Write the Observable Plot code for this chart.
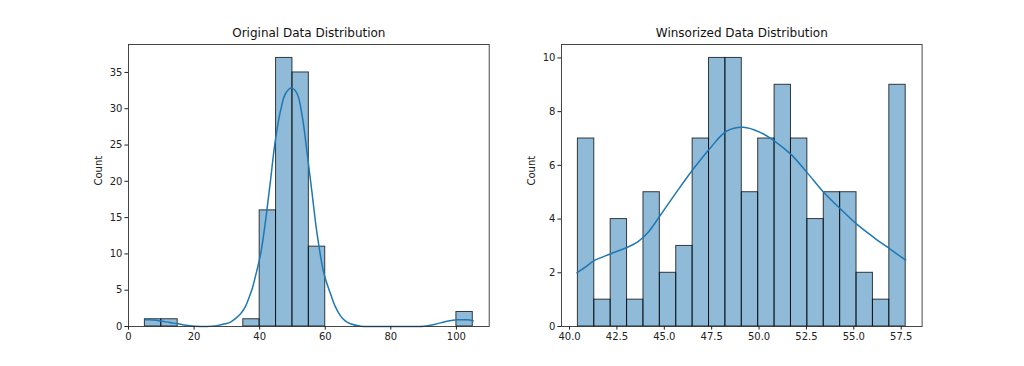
<!DOCTYPE html>
<html><head><meta charset="utf-8">
<script src="https://cdn.jsdelivr.net/npm/d3@7"></script>
<script src="https://cdn.jsdelivr.net/npm/@observablehq/plot@0.6"></script>
<style>
body{margin:0;background:#fff}
#chart{display:flex;width:1024px;height:366px}
#chart svg{display:block}
</style>
</head><body><div id="chart"></div>
<script>
// ---- Original data histogram ----
const origTitle = "Original Data Distribution";
const origBinEdges = [5,10,15,20,25,30,35,40,45,50,55,60,65,70,75,80,85,90,95,100,105];
const origCounts = [1,1,0,0,0,0,1,16,37,35,11,0,0,0,0,0,0,0,0,2];
const origKdeX = [5.1,7.5,10.2,12.5,15.2,17.5,20.3,24,27,29.5,31.1,32.5,34.2,35.6,36.7,37.8,38.7,40.3,41.8,43.3,44.8,46.4,47.9,49.7,51.4,53.0,54.5,56.0,57.5,59.6,61.6,63,64.6,66,67.7,70.8,75,80,85,90.1,92.5,95.2,97.5,100.2,103.3,105.1];
const origKdeY = [0.92,0.9,0.73,0.55,0.37,0.18,0.05,0.0,0.12,0.37,0.6,1.06,1.75,2.7,3.9,5.3,6.9,10.0,14.6,20.1,25.7,29.8,32.1,32.85,32.1,28.9,23.8,18.3,12.8,7.3,4.5,2.8,1.5,0.8,0.37,0.05,0.01,0.0,0.0,0.05,0.2,0.5,0.75,0.92,0.92,0.78];
const origXTicks = [0,20,40,60,80,100];
const origYTicks = [0,5,10,15,20,25,30,35];

// ---- Winsorized data histogram ----
const winsTitle = "Winsorized Data Distribution";
const winsBinEdges = [40.44,41.305,42.17,43.035,43.90,44.765,45.63,46.495,47.36,48.225,49.09,49.955,50.82,51.685,52.55,53.415,54.28,55.145,56.01,56.875,57.74];
const winsCounts = [7,1,4,1,5,2,3,7,10,10,5,7,9,7,4,5,5,2,1,9];
const winsKdeX = [40.39,40.85,41.3,42.15,43.05,43.6,44.14,44.8,45.7,46.57,47.43,48.3,49.17,50.06,50.94,51.7,52.55,53.41,54.29,55.17,56.05,56.92,57.74];
const winsKdeY = [2.0,2.22,2.45,2.7,2.95,3.15,3.5,4.15,5.06,5.9,6.65,7.28,7.42,7.23,6.84,6.4,5.72,5.0,4.38,3.8,3.32,2.88,2.47];
const winsXTicks = [40,42.5,45,47.5,50,52.5,55,57.5];
const winsYTicks = [0,2,4,6,8,10];

const yLabel = "Count";

function panel({title, edges, counts, kdeX, kdeY, xDomain, yDomain, xTicks, yTicks, xFormat, marginLeft, marginRight}) {
  const bars = counts.map((c, i) => ({x1: edges[i], x2: edges[i + 1], y: c})).filter(d => d.y > 0);
  const kde = kdeX.map((x, i) => ({x, y: kdeY[i]}));
  return Plot.plot({
    width: 512, height: 366,
    marginLeft, marginRight, marginTop: 44, marginBottom: 40,
    style: {fontFamily: "DejaVu Sans, sans-serif", fontSize: "10px", color: "#222", background: "#fff"},
    x: {domain: xDomain, label: null},
    y: {domain: yDomain, label: null},
    marks: [
      Plot.rectY(bars, {x1: "x1", x2: "x2", y: "y", fill: "#1f77b4", fillOpacity: 0.5, stroke: "#000", strokeOpacity: 0.75, strokeWidth: 1}),
      Plot.line(kde, {x: "x", y: "y", stroke: "#1f77b4", strokeWidth: 1.5, curve: "catmull-rom"}),
      Plot.frame({stroke: "#333", strokeWidth: 0.9}),
      Plot.axisX({ticks: xTicks, tickSize: 3.6, tickPadding: 2.5, tickFormat: xFormat, label: null, fontSize: 10}),
      Plot.axisY({ticks: yTicks, tickSize: 3.6, tickPadding: 2.5, label: null, fontSize: 10}),
      Plot.text([title], {text: d => d, frameAnchor: "top", lineAnchor: "bottom", dy: -7.5, fontSize: 12, fill: "#111"}),
      Plot.text([yLabel], {text: d => d, frameAnchor: "left", rotate: -90, dx: -30, fontSize: 10, fill: "#222"})
    ]
  });
}

const chart = document.getElementById("chart");
chart.append(panel({
  title: origTitle, edges: origBinEdges, counts: origCounts, kdeX: origKdeX, kdeY: origKdeY,
  xDomain: [0, 110], yDomain: [0, 38.85], xTicks: origXTicks, yTicks: origYTicks,
  xFormat: d => String(d), marginLeft: 128, marginRight: 23.3
}));
chart.append(panel({
  title: winsTitle, edges: winsBinEdges, counts: winsCounts, kdeX: winsKdeX, kdeY: winsKdeY,
  xDomain: [39.575, 58.605], yDomain: [0, 10.5], xTicks: winsXTicks, yTicks: winsYTicks,
  xFormat: d3.format(".1f"), marginLeft: 49, marginRight: 102.4
}));
</script>
</body></html>
